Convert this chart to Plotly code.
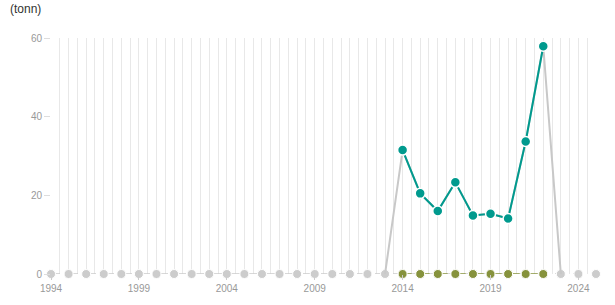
import plotly.graph_objects as go

years_all = list(range(1994, 2026))
zero_all = [0] * len(years_all)

years_data = list(range(2014, 2023))
teal_vals = [31.5, 20.5, 16.0, 23.3, 14.9, 15.3, 14.1, 33.7, 57.9]
olive_vals = [0] * len(years_data)

grey_years = [2013] + years_data + [2023]
grey_vals = [0] + teal_vals + [0]

label_years = [1994, 1999, 2004, 2009, 2014, 2019, 2024]
y_ticks = [0, 20, 40, 60]

fig = go.Figure()

# grey dashed baseline with markers for all years
fig.add_trace(go.Scatter(
    x=years_all, y=zero_all, mode="lines+markers",
    line=dict(color="#cccccc", width=1.5, dash="dash"),
    marker=dict(color="#cccccc", size=9, line=dict(color="white", width=1)),
    cliponaxis=False, hoverinfo="skip", showlegend=False))

# grey solid total line
fig.add_trace(go.Scatter(
    x=grey_years, y=grey_vals, mode="lines",
    line=dict(color="#c8c8c8", width=2),
    cliponaxis=False, hoverinfo="skip", showlegend=False))

# olive series at zero
fig.add_trace(go.Scatter(
    x=years_data, y=olive_vals, mode="lines+markers",
    line=dict(color="#86923c", width=1.5, dash="dash"),
    marker=dict(color="#86923c", size=9, line=dict(color="white", width=1)),
    cliponaxis=False, showlegend=False))

# teal series
fig.add_trace(go.Scatter(
    x=years_data, y=teal_vals, mode="lines+markers",
    line=dict(color="#009a8e", width=2),
    marker=dict(color="#009a8e", size=10, line=dict(color="white", width=1.5)),
    cliponaxis=False, showlegend=False))

half_years = [1994 + 0.5 * i for i in range(0, 63)]

fig.update_layout(
    width=615, height=305,
    margin=dict(l=51, r=19, t=38, b=31),
    paper_bgcolor="white", plot_bgcolor="white",
    font=dict(family="Liberation Sans, Arial, sans-serif", size=10, color="#999999"),
    xaxis=dict(
        range=[1994, 2025], showline=False, zeroline=False,
        tickmode="array", tickvals=label_years, ticktext=[str(y) for y in label_years],
        ticks="outside", ticklen=5, tickcolor="#cccccc",
        showgrid=False,
        minor=dict(tickmode="array", tickvals=half_years, showgrid=True,
                   gridcolor="#e8e8e8", gridwidth=1, ticks=""),
        tickfont=dict(size=10, color="#999999"),
    ),
    yaxis=dict(
        range=[0, 60], showline=False, zeroline=False, showgrid=False,
        tickmode="array", tickvals=y_ticks,
        ticks="outside", ticklen=6, tickcolor="#dddddd",
        tickfont=dict(size=10, color="#999999"),
    ),
    annotations=[dict(text="(tonn)", xref="paper", yref="paper", x=-51/545, y=1,
                      xanchor="left", yanchor="bottom", yshift=20, xshift=8,
                      showarrow=False, font=dict(size=12, color="#333333"))],
)

fig.write_html("out.html")
